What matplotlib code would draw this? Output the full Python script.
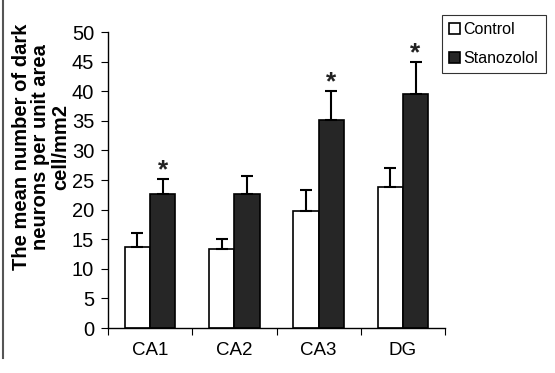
import matplotlib
matplotlib.use("Agg")
import matplotlib.pyplot as plt
from matplotlib.lines import Line2D
import numpy as np

categories = ["CA1", "CA2", "CA3", "DG"]
control = [13.7, 13.3, 19.8, 23.8]
control_err = [2.3, 1.8, 3.5, 3.2]
stanozolol = [22.7, 22.6, 35.1, 39.6]
stanozolol_err = [2.5, 3.1, 4.9, 5.4]
significant = [True, False, True, True]
yticks = [0, 5, 10, 15, 20, 25, 30, 35, 40, 45, 50]

plt.rcParams['font.family'] = ['Liberation Sans', 'DejaVu Sans']

fig = plt.figure(figsize=(5.55, 3.73), dpi=100)
ax = fig.add_axes([108/555, 1-328/373, (445-108)/555, (328-32)/373])

x = np.arange(len(categories)) + 0.5
w = 0.3
ekw = dict(ecolor='black', elinewidth=1.5, capsize=4.5, capthick=1.5)
ax.bar(x - w/2, control, w, color='white', edgecolor='black', linewidth=1.2,
       yerr=[np.zeros(len(control)), control_err], error_kw=ekw, label='Control', zorder=2)
ax.bar(x + w/2, stanozolol, w, color='#262626', edgecolor='black', linewidth=1.2,
       yerr=[np.zeros(len(stanozolol)), stanozolol_err], error_kw=ekw, label='Stanozolol', zorder=2)

for xi, v, e, s in zip(x, stanozolol, stanozolol_err, significant):
    if s:
        ax.text(xi + w/2, v + e - 0.6, "*", ha='center', va='bottom', fontsize=19,
                fontweight='bold', color='#222222')

ax.set_xlim(0, len(categories))
ax.set_ylim(0, 50)
ax.set_yticks(yticks)
ax.set_yticklabels([str(t) for t in yticks], fontsize=14.5)
ax.set_xticks(np.arange(len(categories) + 1))
ax.set_xticklabels([])
ax.set_xticks(x, minor=True)
ax.set_xticklabels(categories, minor=True, fontsize=13.5)
ax.tick_params(axis='x', which='minor', length=0, pad=10)
ax.tick_params(axis='x', which='major', length=5, direction='out')
ax.tick_params(axis='y', length=5, direction='out', pad=5)
for sp in ['top', 'right']:
    ax.spines[sp].set_visible(False)
for sp in ['left', 'bottom']:
    ax.spines[sp].set_linewidth(1.0)

fig.text(41/555, 1-147/373, "The mean number of dark\nneurons per unit area\ncell/mm2", rotation=90,
         ha='center', va='center', fontsize=14.5, fontweight='bold', multialignment='center', linespacing=1.05)

leg = fig.legend(loc='upper left', bbox_to_anchor=(442/555, 1-15/373), fontsize=11.5, frameon=True,
                 fancybox=False, edgecolor='black', handlelength=0.7, handleheight=0.7, handletextpad=0.2,
                 borderpad=0.45, labelspacing=0.85, borderaxespad=0)
leg.get_frame().set_linewidth(0.8)

fig.add_artist(Line2D([3/555, 3/555], [0.04, 1.0], color='#555555', linewidth=1.5))

fig.savefig("out.png", dpi=100)
